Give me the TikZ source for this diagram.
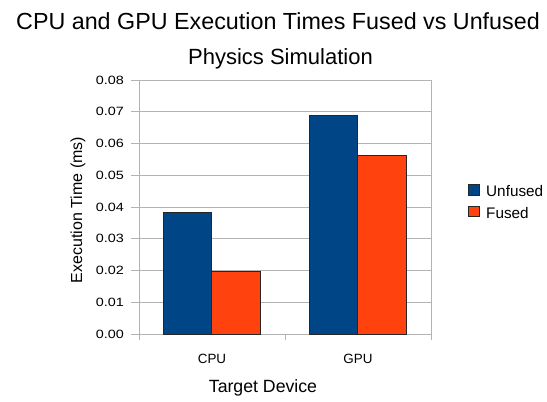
\documentclass[tikz,border=0pt]{standalone}
\usepackage{fontspec}
\setmainfont{Liberation Sans}
\newfontfamily\tickfont[FakeStretch=1.2]{Liberation Sans}
\definecolor{unfusedc}{HTML}{004586}
\definecolor{fusedc}{HTML}{FF420E}
\definecolor{gridc}{HTML}{B3B3B3}
\begin{document}
\begin{tikzpicture}[x=1pt,y=-1pt,
  gridline/.style={draw=gridc,line width=1pt},
  barbox/.style={draw=black!85,line width=0.7pt},
  ticklabel/.style={font=\tickfont\fontsize{12}{14}\selectfont,anchor=east,inner sep=0pt},
  catlabel/.style={font=\fontsize{13.4}{16}\selectfont,anchor=base,inner sep=0pt},
  legendtext/.style={font=\fontsize{15.3}{18}\selectfont,anchor=base west,inner sep=0pt}]
\useasboundingbox (0,0) rectangle (547,402);
\fill[white] (0,0) rectangle (547,402);

% titles
\node[font=\fontsize{23.3}{28}\selectfont,anchor=base,inner sep=0pt] (title) at (278,29)
  {CPU and GPU Execution Times Fused vs Unfused};
\node[font=\fontsize{22}{26}\selectfont,anchor=base,inner sep=0pt] (subtitle) at (280.5,64)
  {Physics Simulation};

% horizontal grid, value axis ticks and labels (0.01 per 31.75pt)
\foreach \k in {1,...,8}
  \draw[gridline] (139,{334-\k*31.75}) -- (431,{334-\k*31.75});
\foreach \k in {0,...,8}{
  \draw[gridline] (131,{334-\k*31.75}) -- (139,{334-\k*31.75});
  \node[ticklabel] (tick\k) at (124,{334-\k*31.75}) {0.0\k};
}
% frame and category ticks
\draw[gridline] (431,80) -- (431,340);
\draw[gridline] (139,80) -- (139,340);
\draw[gridline] (131,334) -- (431,334);
\draw[gridline] (285,334) -- (285,340);

% bars
\path[fill=unfusedc,barbox] (163,334) rectangle (211.5,{334-0.0384*3175});
\path[fill=fusedc,barbox]   (211.5,334) rectangle (260,{334-0.0198*3175});
\path[fill=unfusedc,barbox] (309,334) rectangle (357.5,{334-0.0690*3175});
\path[fill=fusedc,barbox]   (357.5,334) rectangle (406,{334-0.0564*3175});

% category labels and axis titles
\node[catlabel] (cpu) at (212,363.3) {CPU};
\node[catlabel] (gpu) at (358,363.3) {GPU};
\node[font=\fontsize{17.7}{21}\selectfont,anchor=base,inner sep=0pt] (xtitle) at (263,392) {Target Device};
\node[font=\fontsize{16}{19}\selectfont,anchor=base,inner sep=0pt,rotate=90] (ytitle) at (82,210)
  {Execution Time (ms)};

% legend
\path[fill=unfusedc,barbox] (468.5,184.5) rectangle (479,195);
\path[fill=fusedc,barbox]   (468.5,206) rectangle (479,216.5);
\node[legendtext] (lunf) at (486,196.5) {Unfused};
\node[legendtext] (lfus) at (486,218.5) {Fused};
\end{tikzpicture}
\end{document}
